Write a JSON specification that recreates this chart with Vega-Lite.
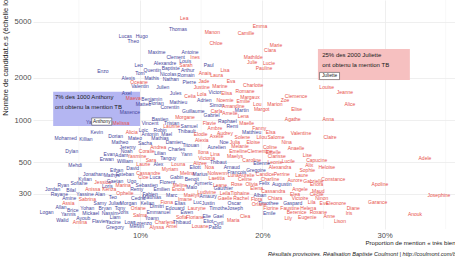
{
"$schema": "https://vega.github.io/schema/vega-lite/v6.json",
"width": 422, "height": 229,
"autosize": {"type": "none"},
"padding": {"left": 33, "top": 0, "right": 0, "bottom": 29},
"background": "white",
"config": {"view": {"stroke": null}, "font": "Liberation Sans"},
"title": {"text": "Résultats provisoires. Réalisation Baptiste Coulmont | http://coulmont.com/bac", "orient": "bottom", "anchor": "start", "frame": "group", "dx": 235, "offset": 7, "fontSize": 5.6, "fontStyle": "italic", "fontWeight": "normal", "color": "#1a1a1a"},
"datasets": {
"minor": [{"x": 5}, {"x": 15}, {"x": 25}, {"x": 35}],
"boxes": [{"x": 2.9, "x2": 10.0, "n": 906, "n2": 1590, "g": "M"}, {"x": 24.55, "x2": 32.07, "n": 1923, "n2": 3196, "g": "F"}],
"notes": [{"x": 3.05, "n": 1450, "t": "7% des 1000 Anthony"}, {"x": 3.05, "n": 1243, "t": "ont obtenu la mention TB"}, {"x": 24.9, "n": 2897, "t": "25% des 2000 Juliette"}, {"x": 24.9, "n": 2480, "t": "ont obtenu la mention TB"}],
"labels": [{"name": "Anthony", "x": 6.87, "n": 975}, {"name": "Juliette", "x": 25.5, "n": 2055}],
"names": [
{"name":"Enzo","g":"M","x":6.97,"n":2230},
{"name":"Lea","g":"F","x":13.62,"n":5334},
{"name":"Thomas","g":"M","x":13.11,"n":4436},
{"name":"Manon","g":"F","x":15.91,"n":4201},
{"name":"Lucas","g":"M","x":8.80,"n":3935},
{"name":"Hugo","g":"M","x":10.14,"n":3954},
{"name":"Theo","g":"M","x":9.45,"n":3643},
{"name":"Chloe","g":"F","x":16.21,"n":3526},
{"name":"Maxime","g":"M","x":11.37,"n":3043},
{"name":"Antoine","g":"M","x":14.09,"n":3028},
{"name":"Clement","g":"M","x":12.92,"n":2818},
{"name":"Ines","g":"F","x":14.50,"n":2790},
{"name":"Louis","g":"M","x":13.70,"n":2614},
{"name":"Leo","g":"M","x":9.89,"n":2460},
{"name":"Alexandre","g":"M","x":12.04,"n":2529},
{"name":"Sarah","g":"F","x":13.76,"n":2448},
{"name":"Paul","g":"M","x":15.62,"n":2448},
{"name":"Baptiste","g":"M","x":12.51,"n":2353},
{"name":"Quentin","g":"M","x":11.01,"n":2256},
{"name":"Arthur","g":"M","x":13.90,"n":2256},
{"name":"Lisa","g":"F","x":16.95,"n":2267},
{"name":"Tom","g":"M","x":10.00,"n":2147},
{"name":"Nicolas","g":"M","x":12.31,"n":2113},
{"name":"Romain","g":"M","x":13.76,"n":2099},
{"name":"Anais","g":"F","x":15.31,"n":2147},
{"name":"Laura","g":"F","x":16.27,"n":2088},
{"name":"Alexis","g":"M","x":9.04,"n":1988},
{"name":"Mathis","g":"M","x":10.96,"n":1988},
{"name":"Nathan","g":"M","x":12.51,"n":1965},
{"name":"Oceane","g":"F","x":9.92,"n":1871},
{"name":"Pierre","g":"M","x":14.03,"n":1871},
{"name":"Jade","g":"F","x":15.23,"n":1902},
{"name":"Eva","g":"F","x":17.44,"n":1902},
{"name":"Marine","g":"F","x":16.54,"n":1753},
{"name":"Emma","g":"F","x":19.81,"n":4656},
{"name":"Camille","g":"F","x":18.67,"n":4153},
{"name":"Marie","g":"F","x":21.12,"n":3396},
{"name":"Clara","g":"F","x":20.63,"n":3159},
{"name":"Mathilde","g":"F","x":19.26,"n":2790},
{"name":"Julie","g":"F","x":19.18,"n":2584},
{"name":"Lucie","g":"F","x":20.55,"n":2529},
{"name":"Pauline","g":"F","x":20.14,"n":2342},
{"name":"Charlotte","g":"F","x":19.26,"n":1782},
{"name":"Yanis","g":"M","x":6.08,"n":973},
{"name":"Kevin","g":"M","x":6.46,"n":826},
{"name":"Mohamed","g":"M","x":3.92,"n":745},
{"name":"Killian","g":"M","x":5.58,"n":733},
{"name":"Dorian","g":"M","x":8.01,"n":770},
{"name":"Matheo","g":"M","x":8.36,"n":701},
{"name":"Dylan","g":"M","x":4.42,"n":605},
{"name":"Evan","g":"M","x":7.49,"n":573},
{"name":"Erwan","g":"M","x":7.28,"n":526},
{"name":"Mehdi","g":"M","x":4.69,"n":476},
{"name":"Valentin","g":"M","x":10.00,"n":1744},
{"name":"Julien","g":"M","x":11.86,"n":1724},
{"name":"Justine","g":"F","x":15.05,"n":1707},
{"name":"Axel","g":"M","x":8.91,"n":1548},
{"name":"Jules","g":"M","x":12.92,"n":1548},
{"name":"Celia","g":"F","x":14.09,"n":1488},
{"name":"Lola","g":"F","x":15.05,"n":1523},
{"name":"Victor","g":"M","x":16.13,"n":1589},
{"name":"Maeva","g":"F","x":9.45,"n":1440},
{"name":"Benjamin","g":"M","x":10.96,"n":1410},
{"name":"Florian","g":"M","x":11.31,"n":1314},
{"name":"Matteo","g":"M","x":10.27,"n":1293},
{"name":"Corentin","g":"M","x":12.45,"n":1243},
{"name":"Mathieu","g":"M","x":13.13,"n":1349},
{"name":"Adrien","g":"M","x":15.26,"n":1387},
{"name":"Noemie","g":"F","x":16.95,"n":1387},
{"name":"Simon","g":"M","x":16.27,"n":1278},
{"name":"Maxence","g":"M","x":9.18,"n":1146},
{"name":"Guillaume","g":"M","x":14.36,"n":1164},
{"name":"Carla","g":"F","x":16.27,"n":1164},
{"name":"Morgane","g":"F","x":13.68,"n":1056},
{"name":"Gabriel","g":"M","x":15.86,"n":1085},
{"name":"Bastien","g":"M","x":11.64,"n":1016},
{"name":"Vincent","g":"M","x":10.82,"n":948},
{"name":"Tristan","g":"M","x":12.59,"n":957},
{"name":"Raphael","g":"M","x":17.15,"n":989},
{"name":"Melissa","g":"F","x":8.45,"n":948},
{"name":"Laurine","g":"F","x":12.59,"n":902},
{"name":"Samuel","g":"M","x":14.01,"n":911},
{"name":"Flavie","g":"F","x":15.67,"n":957},
{"name":"Remi","g":"M","x":17.55,"n":911},
{"name":"Loic","g":"M","x":10.27,"n":849},
{"name":"Robin","g":"M","x":11.64,"n":849},
{"name":"Thibault","g":"M","x":13.82,"n":839},
{"name":"Ambre","g":"F","x":16.13,"n":873},
{"name":"Alicia","g":"F","x":9.32,"n":818},
{"name":"Antonin","g":"M","x":10.82,"n":795},
{"name":"Mael","g":"M","x":12.18,"n":795},
{"name":"Elodie","g":"F","x":14.96,"n":795},
{"name":"Audrey","g":"F","x":16.95,"n":812},
{"name":"Mateo","g":"M","x":9.59,"n":741},
{"name":"Mathias","g":"M","x":11.64,"n":741},
{"name":"Alexia","g":"F","x":15.05,"n":721},
{"name":"Axelle","g":"F","x":16.27,"n":770},
{"name":"Noe","g":"M","x":16.87,"n":701},
{"name":"Sacha","g":"M","x":10.41,"n":690},
{"name":"Damien","g":"M","x":12.80,"n":694},
{"name":"Titouan","g":"M","x":14.15,"n":664},
{"name":"Jeremy","g":"M","x":8.99,"n":646},
{"name":"Andrea","g":"F","x":11.50,"n":646},
{"name":"Aurelien","g":"M","x":16.27,"n":646},
{"name":"Noah","g":"M","x":8.91,"n":602},
{"name":"Coralie","g":"F","x":10.55,"n":605},
{"name":"Charles","g":"M","x":13.00,"n":619},
{"name":"Ilona","g":"F","x":15.18,"n":595},
{"name":"Lina","g":"F","x":16.13,"n":573},
{"name":"Adam","g":"M","x":8.50,"n":564},
{"name":"Yasmine","g":"F","x":9.73,"n":555},
{"name":"Lilian","g":"M","x":11.64,"n":580},
{"name":"Yann","g":"M","x":13.82,"n":570},
{"name":"William","g":"M","x":8.77,"n":514},
{"name":"Sara","g":"F","x":10.90,"n":520},
{"name":"Tanguy","g":"M","x":12.31,"n":534},
{"name":"Victoria","g":"F","x":15.45,"n":534},
{"name":"Alizee","g":"F","x":14.91,"n":497},
{"name":"Thibaut","g":"M","x":16.40,"n":505},
{"name":"Louise","g":"F","x":25.27,"n":1724},
{"name":"Jeanne","g":"F","x":26.76,"n":1589},
{"name":"Elisa","g":"F","x":17.09,"n":1548},
{"name":"Romane","g":"F","x":18.59,"n":1607},
{"name":"Clemence","g":"F","x":22.76,"n":1488},
{"name":"Margaux","g":"F","x":18.99,"n":1464},
{"name":"Emilie","g":"F","x":18.45,"n":1372},
{"name":"Zoe","g":"F","x":21.86,"n":1387},
{"name":"Amandine","g":"F","x":17.63,"n":1257},
{"name":"Lou","g":"F","x":19.59,"n":1299},
{"name":"Marion","g":"F","x":21.04,"n":1299},
{"name":"Martin","g":"M","x":18.32,"n":1178},
{"name":"Margot","g":"F","x":19.95,"n":1191},
{"name":"Elise","g":"F","x":22.81,"n":1197},
{"name":"Amelie","g":"F","x":17.36,"n":1116},
{"name":"Lena","g":"F","x":18.45,"n":1068},
{"name":"Agathe","g":"F","x":22.49,"n":1016},
{"name":"Anna","g":"F","x":25.40,"n":1012},
{"name":"Maelle","g":"F","x":18.72,"n":957},
{"name":"Fanny","g":"F","x":19.75,"n":882},
{"name":"Matthieu","g":"M","x":19.13,"n":818},
{"name":"Elsa","g":"F","x":20.69,"n":826},
{"name":"Valentine","g":"F","x":23.16,"n":804},
{"name":"Solene","g":"F","x":18.37,"n":761},
{"name":"Lilou","g":"F","x":19.95,"n":761},
{"name":"Salome","g":"F","x":21.12,"n":761},
{"name":"Claire","g":"F","x":25.54,"n":753},
{"name":"Julia","g":"F","x":17.77,"n":701},
{"name":"Eloise","g":"F","x":19.26,"n":701},
{"name":"Nina","g":"F","x":22.00,"n":701},
{"name":"Melanie","g":"F","x":18.18,"n":654},
{"name":"Coline","g":"F","x":20.63,"n":640},
{"name":"Anaelle","g":"F","x":22.76,"n":629},
{"name":"Emeline","g":"F","x":18.04,"n":605},
{"name":"Clementine","g":"F","x":19.81,"n":605},
{"name":"Estelle","g":"F","x":20.90,"n":595},
{"name":"Lise","g":"F","x":23.68,"n":564},
{"name":"Maelys","g":"F","x":17.77,"n":555},
{"name":"Clarisse","g":"F","x":21.18,"n":555},
{"name":"Caroline","g":"F","x":19.13,"n":520},
{"name":"Capucine","g":"F","x":24.45,"n":520},
{"name":"Lucile","g":"F","x":22.13,"n":511},
{"name":"Leonie","g":"F","x":21.04,"n":505},
{"name":"Etienne","g":"M","x":19.95,"n":492},
{"name":"Alice","g":"F","x":27.17,"n":1299},
{"name":"Adele","g":"F","x":33.30,"n":534},
{"name":"Jonathan","g":"M","x":6.18,"n":413},
{"name":"Mathys","g":"M","x":7.69,"n":407},
{"name":"Kylian","g":"M","x":5.50,"n":381},
{"name":"Sofiane","g":"M","x":5.01,"n":355},
{"name":"Jessica","g":"F","x":6.95,"n":364},
{"name":"Ryan","g":"M","x":3.73,"n":345},
{"name":"Loris","g":"M","x":7.33,"n":341},
{"name":"Jordan","g":"M","x":2.86,"n":322},
{"name":"Bilal","g":"M","x":4.36,"n":318},
{"name":"Anissa","g":"F","x":6.13,"n":322},
{"name":"Kenza","g":"F","x":7.49,"n":322},
{"name":"Rayane","g":"M","x":3.40,"n":296},
{"name":"Yassine","g":"M","x":5.50,"n":298},
{"name":"Alan","g":"M","x":6.73,"n":298},
{"name":"Teo","g":"M","x":7.77,"n":285},
{"name":"Amine","g":"M","x":4.22,"n":278},
{"name":"Sabrina","g":"F","x":5.69,"n":273},
{"name":"Assia","g":"F","x":4.14,"n":258},
{"name":"Samy","g":"M","x":6.73,"n":258},
{"name":"Julian","g":"M","x":7.96,"n":258},
{"name":"Allan","g":"M","x":3.54,"n":242},
{"name":"Brice","g":"M","x":4.50,"n":229},
{"name":"Yohan","g":"M","x":5.69,"n":238},
{"name":"Bryan","g":"M","x":7.14,"n":236},
{"name":"Tony","g":"M","x":8.36,"n":238},
{"name":"Logan","g":"M","x":2.37,"n":223},
{"name":"Yannis","g":"M","x":4.14,"n":214},
{"name":"Mickael","g":"M","x":5.97,"n":217},
{"name":"Nassim","g":"M","x":7.55,"n":217},
{"name":"Liam","g":"M","x":7.96,"n":205},
{"name":"Walid","g":"M","x":3.65,"n":195},
{"name":"Ayoub","g":"M","x":5.36,"n":202},
{"name":"Amina","g":"F","x":5.09,"n":188},
{"name":"Flavien","g":"M","x":6.73,"n":191},
{"name":"Yacine","g":"M","x":7.82,"n":189},
{"name":"Gregory","g":"M","x":7.96,"n":174},
{"name":"Laurie","g":"F","x":10.27,"n":487},
{"name":"Alex","g":"M","x":11.50,"n":487},
{"name":"Louna","g":"F","x":13.13,"n":487},
{"name":"Eliott","g":"M","x":14.50,"n":466},
{"name":"Noa","g":"F","x":15.67,"n":466},
{"name":"Ethan","g":"M","x":8.09,"n":441},
{"name":"David","g":"M","x":9.40,"n":454},
{"name":"Myriam","g":"F","x":12.45,"n":446},
{"name":"Cassandre","g":"F","x":10.68,"n":422},
{"name":"Esteban","g":"M","x":8.77,"n":413},
{"name":"Melina","g":"F","x":13.87,"n":422},
{"name":"Marius","g":"M","x":14.91,"n":413},
{"name":"Nolwenn","g":"F","x":16.32,"n":418},
{"name":"Cloe","g":"F","x":10.27,"n":396},
{"name":"Luca","g":"M","x":11.23,"n":396},
{"name":"Gabin","g":"M","x":13.00,"n":396},
{"name":"Benoit","g":"M","x":14.23,"n":381},
{"name":"Laetitia","g":"F","x":16.27,"n":385},
{"name":"Gaetan","g":"M","x":7.96,"n":370},
{"name":"Ugo","g":"M","x":9.32,"n":370},
{"name":"Florent","g":"M","x":12.23,"n":364},
{"name":"Aymeric","g":"M","x":15.18,"n":355},
{"name":"Leane","g":"F","x":16.54,"n":345},
{"name":"Sebastien","g":"M","x":10.55,"n":345},
{"name":"Marina","g":"F","x":8.63,"n":345},
{"name":"Meline","g":"F","x":13.27,"n":345},
{"name":"Malo","g":"M","x":14.23,"n":332},
{"name":"Remy","g":"M","x":9.73,"n":322},
{"name":"Emilien","g":"M","x":11.77,"n":322},
{"name":"Enola","g":"F","x":13.13,"n":322},
{"name":"Ludivine","g":"F","x":15.45,"n":309},
{"name":"Leila","g":"F","x":16.95,"n":301},
{"name":"Ophelie","g":"F","x":8.77,"n":301},
{"name":"Fabien","g":"M","x":10.82,"n":296},
{"name":"Marc","g":"M","x":12.59,"n":293},
{"name":"Maëlys","g":"F","x":14.23,"n":293},
{"name":"Amaury","g":"M","x":15.58,"n":288},
{"name":"Cedric","g":"M","x":9.86,"n":280},
{"name":"Matthias","g":"M","x":10.96,"n":282},
{"name":"Imane","g":"F","x":13.68,"n":273},
{"name":"Gaelle","g":"F","x":16.95,"n":280},
{"name":"Fiona","g":"F","x":12.18,"n":260},
{"name":"Morgan","g":"M","x":9.04,"n":258},
{"name":"Kelian","g":"M","x":10.60,"n":258},
{"name":"Elias","g":"M","x":13.27,"n":256},
{"name":"Luc","g":"M","x":14.69,"n":263},
{"name":"Justin","g":"M","x":15.58,"n":256},
{"name":"Dimitri","g":"M","x":11.37,"n":245},
{"name":"Oriane","g":"F","x":9.86,"n":238},
{"name":"Edouard","g":"M","x":12.86,"n":236},
{"name":"Lauryne","g":"F","x":14.64,"n":238},
{"name":"Timothe","g":"M","x":16.40,"n":238},
{"name":"Joris","g":"M","x":8.63,"n":223},
{"name":"Emmanuel","g":"M","x":11.50,"n":221},
{"name":"Ewen","g":"M","x":13.82,"n":221},
{"name":"Salma","g":"F","x":10.00,"n":211},
{"name":"Sofia","g":"F","x":13.41,"n":205},
{"name":"Floriane","g":"F","x":14.50,"n":205},
{"name":"Elie","g":"M","x":15.45,"n":208},
{"name":"Gael","g":"M","x":16.40,"n":208},
{"name":"Yoann","g":"M","x":10.96,"n":202},
{"name":"Charlene","g":"F","x":12.04,"n":189},
{"name":"Thibaud","g":"M","x":13.41,"n":189},
{"name":"Eliot","g":"M","x":15.58,"n":191},
{"name":"Cyril","g":"M","x":16.40,"n":186},
{"name":"Loan","g":"M","x":9.18,"n":189},
{"name":"Lorenzo","g":"M","x":10.22,"n":186},
{"name":"Amel","g":"F","x":12.59,"n":176},
{"name":"Louane","g":"F","x":14.91,"n":176},
{"name":"Pablo","g":"M","x":16.13,"n":174},
{"name":"Melvin","g":"M","x":9.73,"n":176},
{"name":"Alyssa","g":"F","x":11.37,"n":174},
{"name":"Arnaud","g":"M","x":17.50,"n":466},
{"name":"Alexandra","g":"F","x":21.45,"n":466},
{"name":"Alix","g":"F","x":23.84,"n":476},
{"name":"Heloise","g":"F","x":25.27,"n":466},
{"name":"Francois","g":"M","x":17.91,"n":429},
{"name":"Gregoire","g":"M","x":19.48,"n":441},
{"name":"Sophie","g":"F","x":23.68,"n":441},
{"name":"Luna","g":"F","x":17.63,"n":407},
{"name":"Aurelie","g":"F","x":18.72,"n":407},
{"name":"Candice","g":"F","x":20.22,"n":413},
{"name":"Perrine","g":"F","x":21.59,"n":413},
{"name":"Laure","g":"F","x":23.22,"n":407},
{"name":"Celine","g":"F","x":18.59,"n":381},
{"name":"Charline","g":"F","x":20.63,"n":379},
{"name":"Aurore","g":"F","x":22.67,"n":375},
{"name":"Gabrielle","g":"F","x":24.17,"n":370},
{"name":"Constance","g":"F","x":25.81,"n":381},
{"name":"Felix","g":"M","x":20.16,"n":358},
{"name":"Augustin","g":"M","x":21.59,"n":351},
{"name":"Olivia","g":"F","x":19.13,"n":351},
{"name":"Rose","g":"F","x":17.91,"n":349},
{"name":"Enora","g":"F","x":24.45,"n":349},
{"name":"Elena","g":"F","x":19.54,"n":327},
{"name":"Cassandra","g":"F","x":20.90,"n":315},
{"name":"Angele","g":"F","x":23.08,"n":323},
{"name":"Maud","g":"F","x":24.58,"n":315},
{"name":"Gauthier","g":"M","x":16.81,"n":327},
{"name":"Tiphaine","g":"F","x":18.18,"n":301},
{"name":"Alban","g":"M","x":19.81,"n":293},
{"name":"Elea","g":"F","x":22.67,"n":298},
{"name":"Cecile","g":"F","x":24.45,"n":296},
{"name":"Rachel","g":"F","x":18.26,"n":280},
{"name":"Flora","g":"F","x":19.54,"n":274},
{"name":"Chiara","g":"F","x":21.04,"n":278},
{"name":"Victoire","g":"F","x":23.08,"n":280},
{"name":"Ninon","g":"F","x":24.86,"n":278},
{"name":"Lila","g":"F","x":24.04,"n":260},
{"name":"Eve","g":"F","x":25.04,"n":256},
{"name":"Eleonore","g":"F","x":26.03,"n":258},
{"name":"Oscar","g":"M","x":17.71,"n":256},
{"name":"Timothee","g":"M","x":20.49,"n":256},
{"name":"Gaspard","g":"M","x":22.49,"n":256},
{"name":"Orlane","g":"F","x":19.75,"n":253},
{"name":"Joseph","g":"M","x":17.77,"n":238},
{"name":"Florine","g":"F","x":20.71,"n":236},
{"name":"Faustine","g":"F","x":22.26,"n":238},
{"name":"Helena","g":"F","x":23.76,"n":238},
{"name":"Emile","g":"M","x":20.57,"n":217},
{"name":"Berenice","g":"F","x":22.81,"n":221},
{"name":"Roxane","g":"F","x":24.58,"n":221},
{"name":"Clea","g":"F","x":18.59,"n":209},
{"name":"Anne","g":"F","x":25.48,"n":209},
{"name":"Eugenie","g":"F","x":23.68,"n":205},
{"name":"Lily","g":"F","x":22.13,"n":200},
{"name":"Maria","g":"F","x":17.63,"n":195},
{"name":"Lison","g":"F","x":26.35,"n":191},
{"name":"Apoline","g":"F","x":29.62,"n":351},
{"name":"Josephine","g":"F","x":34.45,"n":293},
{"name":"Garance","g":"F","x":29.44,"n":260},
{"name":"Diane","g":"F","x":27.44,"n":238},
{"name":"Iris","g":"F","x":27.09,"n":219},
{"name":"Anouk","g":"F","x":32.49,"n":214}
]
},
"layer": [
{"data": {"name": "minor"}, "mark": {"type": "rule", "color": "#ebebeb", "strokeWidth": 0.4},
 "encoding": {"x": {"field": "x", "type": "quantitative", "scale": {"domain": [1.25, 35.76], "nice": false, "zero": false}}}},
{"data": {"name": "boxes"}, "mark": {"type": "rect"},
 "encoding": {"x": {"field": "x", "type": "quantitative"}, "x2": {"field": "x2"}, "y": {"field": "n", "type": "quantitative"}, "y2": {"field": "n2"},
 "color": {"field": "g", "type": "nominal", "scale": {"domain": ["F", "M"], "range": ["#f6c0c0", "#b4b6f2"]}, "legend": null}}},
{"data": {"name": "names"}, "mark": {"type": "text", "fontSize": 5, "font": "Liberation Sans"},
 "encoding": {
  "x": {"field": "x", "type": "quantitative", "scale": {"domain": [1.25, 35.76], "nice": false, "zero": false},
   "axis": {"values": [10, 20, 30], "labelExpr": "datum.value + '%'", "grid": true, "gridColor": "#ebebeb", "gridWidth": 0.8, "ticks": false, "domain": false, "labelFontSize": 7.6, "labelColor": "#4d4d4d", "labelPadding": 2, "title": "Proportion de mention « très bien »", "titleFontSize": 6.1, "titleFontWeight": "normal", "titleColor": "#1a1a1a", "titleAlign": "left", "titleX": 332, "titleY": 13, "titleBaseline": "middle"}},
  "y": {"field": "n", "type": "quantitative", "scale": {"type": "log", "domain": [168, 7130], "nice": false},
   "axis": {"values": [300, 500, 1000, 2000, 5000], "format": "d", "grid": true, "gridColor": "#ebebeb", "gridWidth": 0.8, "ticks": false, "domain": false, "labelFontSize": 7.6, "labelColor": "#4d4d4d", "labelPadding": 2, "title": "Nombre de candidat.e.s (échelle logarithmique)", "titleFontSize": 7.5, "titleFontWeight": "normal", "titleColor": "#1a1a1a", "titleX": -28, "titleY": 36.5, "titleAngle": -90, "titleAlign": "center", "titleBaseline": "middle"}},
  "text": {"field": "name"},
  "color": {"field": "g", "type": "nominal", "scale": {"domain": ["F", "M"], "range": ["#e8524c", "#45459b"]}, "legend": null}
 }},
{"data": {"name": "labels"}, "mark": {"type": "point", "shape": "M-1,-0.36H1V0.36H-1Z", "size": 400, "filled": true, "fill": "white", "stroke": "#333333", "strokeWidth": 0.5, "opacity": 1},
 "encoding": {"x": {"field": "x", "type": "quantitative"}, "y": {"field": "n", "type": "quantitative"}}},
{"data": {"name": "labels"}, "mark": {"type": "text", "fontSize": 4.8, "color": "#1a1a1a"},
 "encoding": {"x": {"field": "x", "type": "quantitative"}, "y": {"field": "n", "type": "quantitative"}, "text": {"field": "name"}}},
{"data": {"name": "notes"}, "mark": {"type": "text", "fontSize": 6, "align": "left", "color": "#1a1a1a"},
 "encoding": {"x": {"field": "x", "type": "quantitative"}, "y": {"field": "n", "type": "quantitative"}, "text": {"field": "t"}}}
],
"resolve": {"scale": {"color": "independent"}}
}
